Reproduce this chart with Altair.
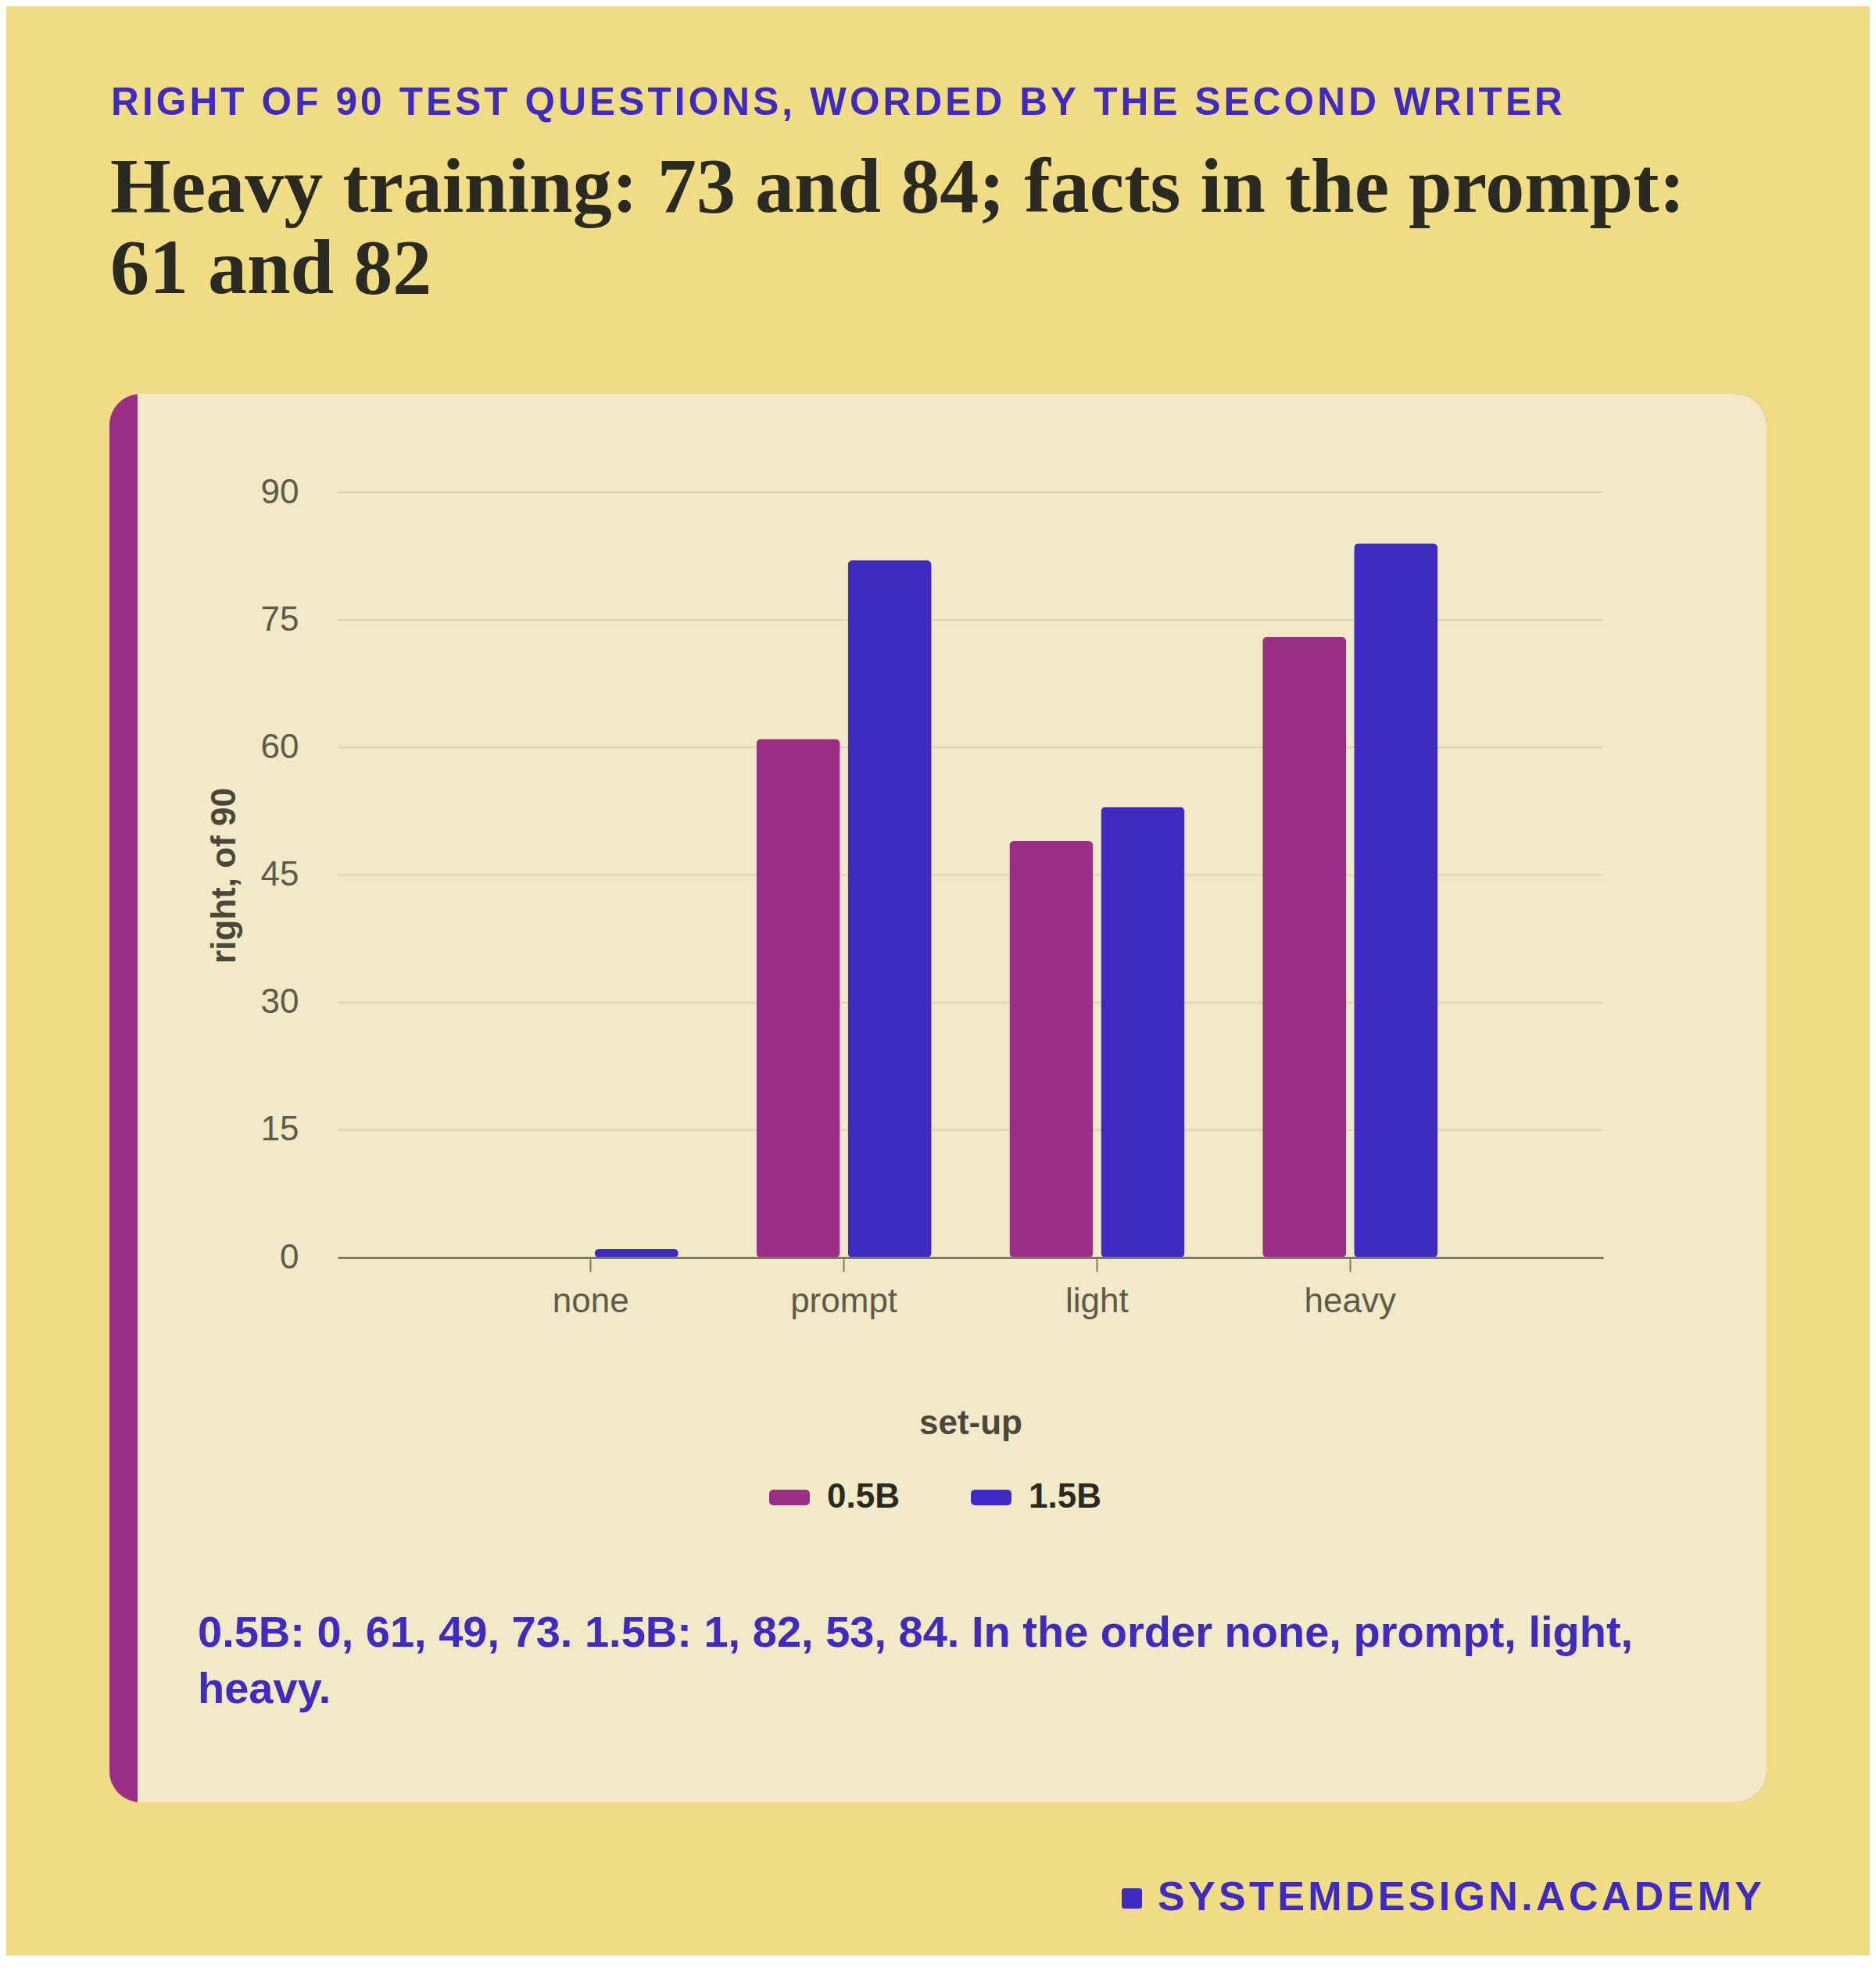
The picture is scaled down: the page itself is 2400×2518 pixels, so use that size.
import pandas as pd
import altair as alt

# values
setups = ['none', 'prompt', 'light', 'heavy']
models = ['0.5B', '1.5B']
right_small = [0, 61, 49, 73]
right_large = [1, 82, 53, 84]
y_ticks = [0, 15, 30, 45, 60, 75, 90]

kicker = 'RIGHT OF 90 TEST QUESTIONS, WORDED BY THE SECOND WRITER'
headline = ['Heavy training: 73 and 84; facts in the prompt:', '61 and 82']
footer = 'SYSTEMDESIGN.ACADEMY'

YELLOW = '#F0DC84'
CARD = '#F2E9C8'
PURPLE = '#9C2E8A'
BLUE = '#3F2AC2'
INK = '#2B2A22'

W, H = 1619, 979

data = pd.DataFrame({
    'setup': setups * 2,
    'model': [models[0]] * 4 + [models[1]] * 4,
    'right': right_small + right_large,
})

caption = [
    '0.5B: ' + ', '.join(str(v) for v in right_small) + '. '
    + '1.5B: ' + ', '.join(str(v) for v in right_large) + '. '
    + 'In the order ' + ', '.join(setups[:3]) + ',',
    setups[3] + '.',
]

def spaced(s):
    return '\u200a'.join(s)

one = pd.DataFrame({'k': [0]})

def text(t, x, y, size, color, font='Liberation Sans', align='left', line_height=None):
    kw = dict(align=align, baseline='alphabetic', font=font, fontSize=size,
              fontWeight='bold', color=color)
    if line_height:
        kw['lineHeight'] = line_height
    return alt.Chart(one).mark_text(**kw).encode(
        x=alt.value(x), y=alt.value(y), text=alt.value(t))

# card with the purple stripe on its left
stripe = alt.Chart(one).mark_rect(color=PURPLE, cornerRadius=40).encode(
    x=alt.value(-292), x2=alt.value(1828), y=alt.value(-126), y2=alt.value(1676))
card = alt.Chart(one).mark_rect(color=CARD, cornerRadiusTopRight=40,
                                cornerRadiusBottomRight=40).encode(
    x=alt.value(-256), x2=alt.value(1828), y=alt.value(-126), y2=alt.value(1676))

y_scale = alt.Scale(domain=[0, 90])
y_axis = alt.Axis(title='right, of 90', values=y_ticks, domain=False,
                  ticks=False, tickSize=0, labelPadding=50,
                  titleAngle=270, titleX=-145, titleY=490,
                  titleAlign='center', titleBaseline='middle',
                  grid=False, zindex=2)

grid = alt.Chart(pd.DataFrame({'right': y_ticks[1:]})).mark_rule(
    color='#DCD3B0', strokeWidth=2).encode(
    y=alt.Y('right:Q', scale=y_scale, axis=y_axis),
    x=alt.value(0), x2=alt.value(W))

bars = alt.Chart(data).mark_bar(cornerRadius=6).encode(
    x=alt.X('setup:N', sort=setups,
            scale=alt.Scale(paddingInner=0.308, paddingOuter=0.654),
            axis=alt.Axis(title='set-up', labelAngle=0, domainColor='#7F7965',
                          domainWidth=3, tickColor='#7F7965', tickWidth=2,
                          tickSize=18, labelPadding=16, titleX=W / 2, titleY=225,
                          titleBaseline='alphabetic', titleAlign='center',
                          grid=False, zindex=2)),
    xOffset=alt.XOffset('model:N', sort=models, scale=alt.Scale(paddingInner=0.0855)),
    y=alt.Y('right:Q', scale=y_scale, axis=y_axis),
    color=alt.Color('model:N', sort=models,
                    scale=alt.Scale(domain=models, range=[PURPLE, BLUE]),
                    legend=alt.Legend(
                        title=None, orient='none', legendX=552, legendY=1260,
                        direction='horizontal', padding=0,
                        symbolType='M-0.8,-0.385L0.8,-0.385A0.2,0.2 0 0 1 1,-0.185'
                                   'L1,0.185A0.2,0.2 0 0 1 0.8,0.385L-0.8,0.385'
                                   'A0.2,0.2 0 0 1 -1,0.185L-1,-0.185'
                                   'A0.2,0.2 0 0 1 -0.8,-0.385Z',
                        symbolSize=2704, symbolStrokeWidth=0, labelOffset=22,
                        columnPadding=91, labelFont='Liberation Sans',
                        labelFontSize=44, labelFontWeight='bold', labelColor=INK)),
)

marker = alt.Chart(one).mark_rect(color=BLUE, cornerRadius=3).encode(
    x=alt.value(1003), x2=alt.value(1029), y=alt.value(1786), y2=alt.value(1812))

chart = alt.layer(
    stripe, card, grid, bars,
    text(spaced(kicker), -290, -483, 49.5, BLUE),
    text(headline, -291, -359, 100, INK, font='Liberation Serif', line_height=104),
    text(caption, -179, 1477, 56, BLUE, line_height=72),
    text(spaced(footer), 1822, 1814, 52, BLUE, align='right'),
    marker,
).properties(
    width=W, height=H,
    padding={'left': 424, 'top': 622, 'right': 341, 'bottom': 893},
    autosize=alt.AutoSizeParams(type='none'),
).configure(
    background=YELLOW,
).configure_view(
    stroke=None,
).configure_axis(
    labelFont='Liberation Sans', labelFontSize=44, labelColor='#5F5A4B',
    titleFont='Liberation Sans', titleFontSize=44, titleFontWeight='bold',
    titleColor='#4B473B',
)

chart.save("out.html", embed_options={"renderer": "svg", "actions": False})
